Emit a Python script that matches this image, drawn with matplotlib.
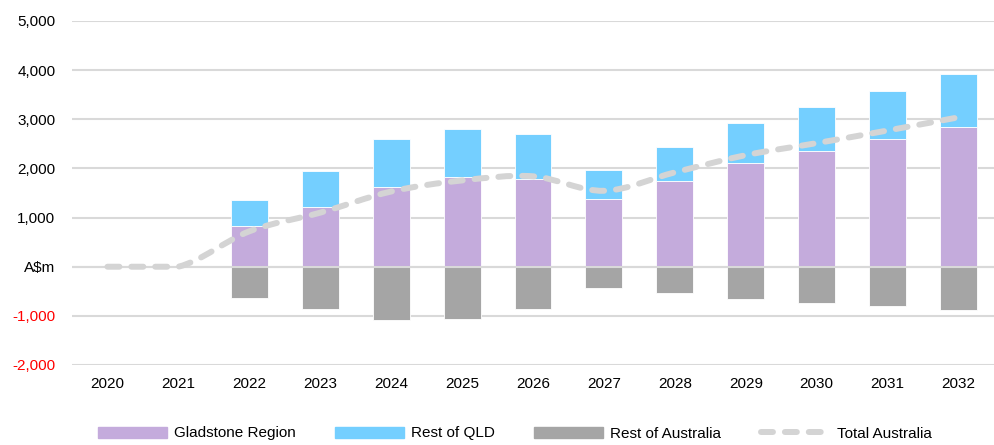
import numpy as np
import matplotlib.pyplot as plt
from matplotlib.lines import Line2D
from matplotlib.patches import Patch, PathPatch
from matplotlib.path import Path

years = ['2020', '2021', '2022', '2023', '2024', '2025', '2026',
         '2027', '2028', '2029', '2030', '2031', '2032']

gladstone = [0, 0, 822, 1218, 1632, 1830, 1795, 1381, 1741, 2108, 2360, 2605, 2850]
rest_qld = [0, 0, 531, 734, 959, 979, 898, 577, 693, 809, 884, 972, 1067]
rest_aus = [0, 0, -639, -857, -1081, -1061, -857, -428, -544, -659, -734, -802, -871]
total_aus = [0, 0, 720, 1100, 1530, 1755, 1840, 1545, 1920, 2270, 2515, 2772, 3040]

c_glad = '#C4ABDC'
c_qld = '#74CFFF'
c_aus = '#A5A5A5'
c_line = '#D4D4D4'
c_grid = '#D9D9D9'
fs = 11

plt.rcParams['font.family'] = ['Liberation Sans', 'DejaVu Sans']

fig = plt.figure(figsize=(9.94, 4.45), dpi=100)
ax = fig.add_axes([72 / 994, 80 / 445, 1 - 72 / 994, (365 - 21) / 445])

x = np.arange(len(years))
w = 0.52

ax.bar(x, gladstone, w, color=c_glad, edgecolor='white', linewidth=0.6, zorder=2)
ax.bar(x, rest_qld, w, bottom=gladstone, color=c_qld, edgecolor='white', linewidth=0.6, zorder=2)
ax.bar(x, rest_aus, w, color=c_aus, edgecolor='white', linewidth=0.6, zorder=2)
ax.axhline(0, color=c_grid, lw=1.5, zorder=3)

# smoothed line through the totals (excel style), flat where two values match
pts = np.column_stack([x, total_aus]).astype(float)
n = len(pts)
verts = [pts[0]]
codes = [Path.MOVETO]
for i in range(n - 1):
    p0 = pts[max(i - 1, 0)]
    p1 = pts[i]
    p2 = pts[i + 1]
    p3 = pts[min(i + 2, n - 1)]
    c1 = p1 + (p2 - p0) / 6
    c2 = p2 - (p3 - p1) / 6
    if p1[1] == p2[1]:
        c1[1] = p1[1]
        c2[1] = p2[1]
    verts += [c1, c2, p2]
    codes += [Path.CURVE4] * 3
ax.add_patch(PathPatch(Path(verts, codes), fill=False, edgecolor=c_line, lw=4.3,
                       linestyle=(0, (2, 2)), capstyle='round', zorder=4))

ax.set_xlim(-0.5, len(years) - 0.5)
ax.set_ylim(-2000, 5000)
yt = np.arange(-2000, 5001, 1000)
ax.set_yticks(yt)
ylabels = []
for v in yt:
    if v == 0:
        ylabels.append('A$m')
    else:
        ylabels.append(f'{v:,}')
ax.set_yticklabels(ylabels, fontsize=fs)
for lab, v in zip(ax.get_yticklabels(), yt):
    if v < 0:
        lab.set_color('red')
ax.set_xticks(x)
ax.set_xticklabels(years, fontsize=fs)
ax.tick_params(length=0)
ax.tick_params(axis='y', pad=12)
ax.tick_params(axis='x', pad=9)
ax.grid(axis='y', color=c_grid, lw=1.5, zorder=0)
ax.set_axisbelow(True)
for s in ax.spines.values():
    s.set_visible(False)

handles = [
    Patch(color=c_glad, label='Gladstone Region'),
    Patch(color=c_qld, label='Rest of QLD'),
    Patch(color=c_aus, label='Rest of Australia'),
    Line2D([], [], color=c_line, lw=4.3, dashes=(2, 2), dash_capstyle='round',
           label='Total Australia'),
]
fig.legend(handles=handles, loc='center left', bbox_to_anchor=(84 / 994, 11.5 / 445),
           ncol=4, frameon=False, fontsize=fs, handlelength=4.5, handleheight=0.7,
           handletextpad=0.46, columnspacing=2.6)

fig.savefig('out.png', dpi=100)
